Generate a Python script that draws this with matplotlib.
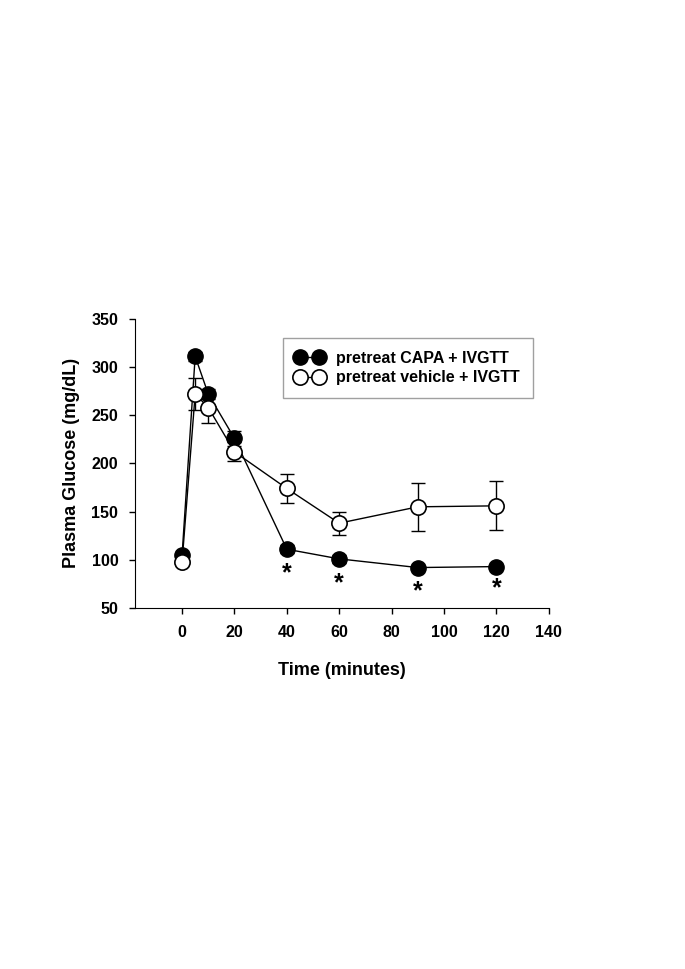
import matplotlib
matplotlib.use('Agg')
import matplotlib.pyplot as plt

plt.rcParams['font.family'] = ['Liberation Sans', 'DejaVu Sans']
plt.rcParams['font.weight'] = 'bold'

# Data
time_min = [0, 5, 10, 20, 40, 60, 90, 120]
capa_mean = [105, 311, 272, 226, 111, 101, 92, 93]
capa_err = [3, 5, 5, 8, 4, 4, 3, 3]
vehicle_mean = [98, 272, 258, 212, 174, 138, 155, 156]
vehicle_err = [3, 17, 16, 10, 15.5, 12, 25, 25.5]
star_times = [40, 60, 90, 120]
star_y = [86, 76, 67, 70]

fig = plt.figure(figsize=(6.85, 9.69), dpi=100)
ax = fig.add_axes([0.197, 0.3725, 0.604, 0.2985])

ax.errorbar(time_min, capa_mean, yerr=capa_err, fmt='none', ecolor='black',
            elinewidth=1, capsize=5, capthick=1, zorder=1)
ax.plot(time_min, capa_mean, '-o', color='black', mfc='black', mec='black',
        ms=11, lw=1, label='pretreat CAPA + IVGTT', zorder=2)
ax.errorbar(time_min, vehicle_mean, yerr=vehicle_err, fmt='none', ecolor='black',
            elinewidth=1, capsize=5, capthick=1, zorder=3)
ax.plot(time_min, vehicle_mean, '-o', color='black', mfc='white', mec='black',
        ms=11, mew=1.2, lw=1, label='pretreat vehicle + IVGTT', zorder=4)

for t, y in zip(star_times, star_y):
    ax.text(t, y, '*', ha='center', va='center', fontsize=18, fontweight='bold')

ax.set_xlim(-18, 140)
ax.set_ylim(50, 350)
ax.set_xticks([0, 20, 40, 60, 80, 100, 120, 140])
ax.set_yticks([50, 100, 150, 200, 250, 300, 350])
ax.spines['top'].set_visible(False)
ax.spines['right'].set_visible(False)
ax.tick_params(direction='out', length=4, width=1, labelsize=11.5, pad=8)
for lbl in ax.get_xticklabels() + ax.get_yticklabels():
    lbl.set_fontweight('bold')

ax.set_xlabel('Time (minutes)', fontsize=13, fontweight='bold', labelpad=16)
ax.set_ylabel('Plasma Glucose (mg/dL)', fontsize=13, fontweight='bold', labelpad=8)

leg = ax.legend(loc='upper left', bbox_to_anchor=(0.357, 0.934), borderaxespad=0,
                numpoints=2, fontsize=11.5, frameon=True, fancybox=False,
                edgecolor='#888888', handlelength=1.8, handletextpad=0.75,
                borderpad=0.8, labelspacing=0.3)
leg.get_frame().set_linewidth(1)
for txt in leg.get_texts():
    txt.set_fontweight('bold')

fig.savefig('out.png', dpi=100)
